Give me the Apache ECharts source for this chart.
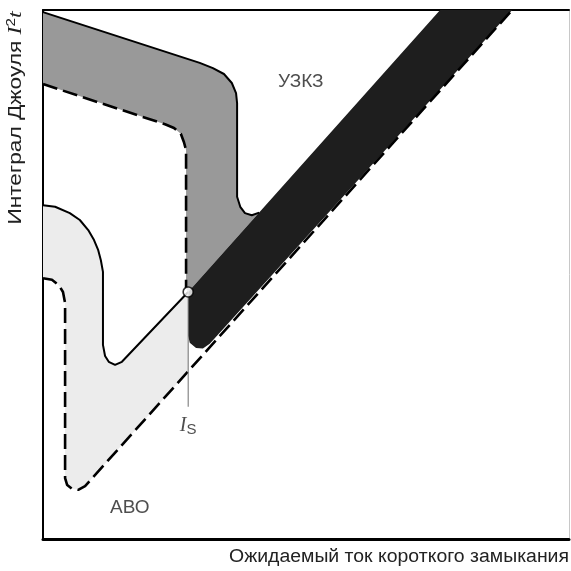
<!DOCTYPE html>
<html>
<head>
<meta charset="utf-8">
<script src="https://cdn.jsdelivr.net/npm/echarts@6/dist/echarts.min.js"></script>
<style>
  html, body { margin: 0; padding: 0; background: #fff; }
  #chart { width: 571px; height: 571px; }
</style>
</head>
<body>
<div id="chart"></div>
<script>
// Relative scales (0..100) on both axes: prospective short-circuit current vs Joule integral I²t.

// Circuit breaker (АВО) band: upper solid boundary and lower dashed boundary
const ABO_SOLID = [[0,63.1],[2.3,62.8],[5.1,61.6],[7.0,60.3],[8.6,58.4],[9.7,56.5],[10.5,54.6],[11.0,52.7],[11.4,50.5],[11.4,36.7],[11.8,34.6],[12.5,33.5],[13.7,32.9],[15.0,33.5],[27.6,46.7]];
const ABO_DASHED = [[0,49.3],[1.7,49.0],[3.0,48.0],[3.8,46.7],[4.2,44.6],[4.2,11.5],[4.6,10.2],[5.5,9.5],[6.7,9.3],[8.0,10.0],[27.6,31.7],[89.2,100]];

// Protective device (УЗКЗ) band: upper solid boundary and lower dashed boundary
const UZKZ_SOLID = [[0,99.6],[29.8,90.0],[32.3,89.0],[34.4,87.9],[35.9,86.2],[36.7,84.3],[36.9,82.4],[36.9,64.7],[37.5,62.8],[38.4,61.6],[39.7,61.2],[41.1,61.7]];
const UZKZ_DASHED = [[0,86.0],[23.2,78.4],[24.9,77.7],[26.2,76.6],[26.8,75.0],[27.2,73.5],[27.2,47.4]];

// Combined operating band above the selectivity limit
const BAND_UPPER = [[27.6,46.7],[41.1,61.7],[75.5,100]];
const BAND_LOWER = [[27.6,38.4],[27.9,37.1],[29.1,36.1],[30.4,36.0],[31.7,36.9],[89.2,100]];

// Selectivity limit current I_S
const IS_POINT = [27.6, 46.7];
const IS_FOOT = 25.0;

const X_TITLE = 'Ожидаемый ток короткого замыкания';
const Y_TITLE = 'Интеграл Джоуля ';

// Build filled outlines from the boundary arrays
const isIdx = ABO_DASHED.findIndex(p => p[0] === IS_POINT[0]);
const aboFill = ABO_SOLID.concat(ABO_DASHED.slice(0, isIdx + 1).reverse());
const uzkzFill = UZKZ_SOLID.concat([IS_POINT], UZKZ_DASHED.slice().reverse());
const bandFill = BAND_UPPER.concat(BAND_LOWER.slice().reverse());

function polygonSeries(points, color, z) {
  return {
    type: 'custom',
    z: z,
    silent: true,
    clip: true,
    data: [0],
    renderItem: function (params, api) {
      return {
        type: 'polygon',
        shape: { points: points.map(p => api.coord(p)) },
        style: { fill: color, stroke: null }
      };
    }
  };
}

function lineSeries(points, dashed, z) {
  return {
    type: 'line',
    z: z,
    silent: true,
    symbol: 'none',
    data: points,
    lineStyle: {
      color: '#000',
      width: dashed ? 2.6 : 2,
      type: dashed ? [15, 6] : 'solid',
      cap: 'butt'
    }
  };
}

const chart = echarts.init(document.getElementById('chart'), null, { renderer: 'canvas' });

const hiddenAxis = {
  type: 'value', min: 0, max: 100,
  axisTick: { show: false }, axisLabel: { show: false }, splitLine: { show: false }
};

chart.setOption({
  backgroundColor: '#fff',
  animation: false,
  grid: { left: 43, right: 2, top: 10, bottom: 32 },
  xAxis: [
    Object.assign({}, hiddenAxis, { position: 'bottom', axisLine: { show: true, onZero: false, lineStyle: { color: '#000', width: 3 } } }),
    Object.assign({}, hiddenAxis, { position: 'top', axisLine: { show: true, onZero: false, lineStyle: { color: '#000', width: 2 } } })
  ],
  yAxis: [
    Object.assign({}, hiddenAxis, { position: 'left', axisLine: { show: true, onZero: false, lineStyle: { color: '#000', width: 2 } } }),
    Object.assign({}, hiddenAxis, { position: 'right', axisLine: { show: true, onZero: false, lineStyle: { color: '#c8c8c8', width: 1 } } })
  ],
  series: [
    polygonSeries(aboFill, '#ececec', 1),
    polygonSeries(uzkzFill, '#999999', 2),
    polygonSeries(bandFill, '#1e1e1e', 3),
    lineSeries(ABO_SOLID, false, 4),
    lineSeries(ABO_DASHED, true, 4),
    lineSeries(UZKZ_SOLID, false, 4),
    lineSeries(UZKZ_DASHED, true, 4),
    {
      // I_S marker line
      type: 'line', z: 5, silent: true, symbol: 'none',
      data: [IS_POINT, [IS_POINT[0], IS_FOOT]],
      lineStyle: { color: '#6e6e6e', width: 1 }
    },
    {
      type: 'scatter', z: 6, silent: true,
      data: [IS_POINT],
      symbol: 'circle', symbolSize: 10,
      itemStyle: { color: '#fff', borderColor: '#000', borderWidth: 1.6 }
    },
    {
      // Annotations
      type: 'scatter', z: 7, silent: true,
      symbolSize: 0,
      data: [
        { value: [49.0, 86.4], label: { formatter: 'УЗКЗ' } },
        { value: [16.5, 5.9], label: { formatter: 'АВО' } },
        { value: [27.6, 21.4], label: { formatter: '{i|I}{s|S}' } }
      ],
      label: {
        show: true, position: 'inside',
        color: '#222', fontFamily: 'Liberation Sans', fontSize: 19,
        rich: {
          i: { fontFamily: 'Liberation Serif', fontStyle: 'italic', fontSize: 20, color: '#222' },
          s: { fontFamily: 'Liberation Sans', fontSize: 15, color: '#222', padding: [8, 0, 0, 0] }
        }
      }
    }
  ],
  graphic: [
    {
      type: 'text',
      x: 16, y: 118, rotation: Math.PI / 2, scaleX: 1.26,
      style: {
        text: Y_TITLE + '{i|I}{sup|2}{i|t}',
        fontFamily: 'Liberation Sans', fontSize: 18, fill: '#222',
        align: 'center', verticalAlign: 'middle',
        rich: {
          i: { fontFamily: 'Liberation Serif', fontStyle: 'italic', fontSize: 19, fill: '#222' },
          sup: { fontFamily: 'Liberation Sans', fontSize: 12, fill: '#222', padding: [0, 0, 8, 0] }
        }
      }
    },
    {
      type: 'text',
      x: 569, y: 557, scaleX: 1.08,
      style: {
        text: X_TITLE,
        fontFamily: 'Liberation Sans', fontSize: 18, fill: '#222',
        align: 'right', verticalAlign: 'middle'
      }
    }
  ]
});
</script>
</body>
</html>
